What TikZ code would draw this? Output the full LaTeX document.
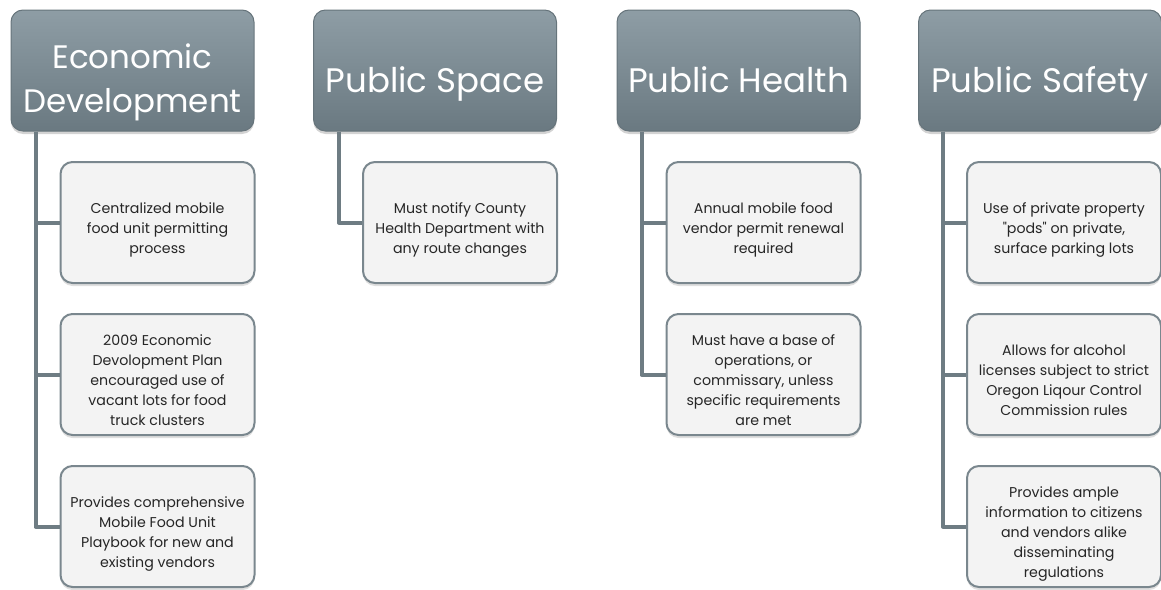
\documentclass[tikz,border=0pt]{standalone}
\usepackage{fontspec}
\setmainfont{Poppins}
\usetikzlibrary{shadows}

\definecolor{hdrtop}{HTML}{8E9DA5}
\definecolor{hdrbot}{HTML}{6A7981}
\definecolor{hdredge}{HTML}{66747B}
\definecolor{boxedge}{HTML}{7A878E}
\definecolor{boxfill}{HTML}{F3F3F3}
\definecolor{branchcol}{HTML}{6E7C83}

\begin{document}
\begin{tikzpicture}[x=1pt, y=-1pt,
	header/.style={rectangle, rounded corners=12pt, minimum width=243pt, minimum height=121pt,
		top color=hdrtop, bottom color=hdrbot, draw=hdredge, line width=1pt, text=white,
		align=center, font=\fontsize{34}{44}\selectfont, text height=51pt, text depth=8pt,
		drop shadow={shadow xshift=0pt, shadow yshift=-3pt, opacity=0.35}},
	item/.style={rectangle, rounded corners=12pt, minimum width=194pt, minimum height=121pt,
		fill=boxfill, draw=boxedge, line width=2pt, text=black!85,
		align=center, font=\fontsize{14.2}{20}\selectfont, text depth=4pt,
		drop shadow={shadow xshift=0pt, shadow yshift=-3pt, opacity=0.25}},
	three/.style={text height=66pt},
	four/.style={text height=86pt},
	five/.style={text height=106pt},
	branch/.style={draw=branchcol, line width=4pt, line join=round}]
	\useasboundingbox (0,0) rectangle (1161,589);
	
	\node[header, font=\fontsize{32.5}{44}\selectfont, text height=91pt, text depth=8pt]
		(ed) at (132.5,70.5) {Economic\\Development};
	\node[header] (ps) at (435,70.5) {Public Space};
	\node[header] (ph) at (738.5,70.5) {Public Health};
	\node[header] (sf) at (1040,70.5) {Public Safety};
	
	\node[item, three] (ed1) at (157.5,222.5) {Centralized mobile\\food unit permitting\\process};
	\node[item, five] (ed2) at (157.5,374.5) {2009 Economic\\Devolopment Plan\\encouraged use of\\vacant lots for food\\truck clusters};
	\node[item, four] (ed3) at (157.5,526.5) {Provides comprehensive\\Mobile Food Unit\\Playbook for new and\\existing vendors};
	
	\node[item, three] (ps1) at (460,222.5) {Must notify County\\Health Department with\\any route changes};
	
	\node[item, three] (ph1) at (763.5,222.5) {Annual mobile food\\vendor permit renewal\\required};
	\node[item, five] (ph2) at (763.5,374.5) {Must have a base of\\operations, or\\commissary, unless\\specific requirements\\are met};
	
	\node[item, three] (sf1) at (1064,222.5) {Use of private property\\\textquotedbl{}pods\textquotedbl{} on private,\\surface parking lots};
	\node[item, four] (sf2) at (1064,374.5) {Allows for alcohol\\licenses subject to strict\\Oregon Liqour Control\\Commission rules};
	\node[item, five] (sf3) at (1064,526.5) {Provides ample\\information to citizens\\and vendors alike\\disseminating\\regulations};
	
	\draw[branch] ([xshift=25pt]ed.south west) |- (ed1.west);
	\draw[branch] ([xshift=25pt]ed.south west) |- (ed2.west);
	\draw[branch] ([xshift=25pt]ed.south west) |- (ed3.west);
	\draw[branch] ([xshift=26pt]ps.south west) |- (ps1.west);
	\draw[branch] ([xshift=25pt]ph.south west) |- (ph1.west);
	\draw[branch] ([xshift=25pt]ph.south west) |- (ph2.west);
	\draw[branch] ([xshift=25pt]sf.south west) |- (sf1.west);
	\draw[branch] ([xshift=25pt]sf.south west) |- (sf2.west);
	\draw[branch] ([xshift=25pt]sf.south west) |- (sf3.west);
	
\end{tikzpicture}
\end{document}
